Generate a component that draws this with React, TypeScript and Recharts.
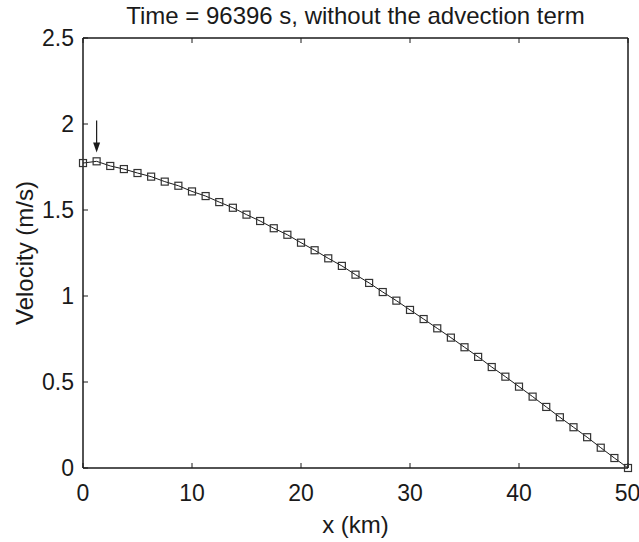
import React from 'react'
import {
    LineChart, Line, XAxis, YAxis, ReferenceLine, ReferenceDot,
} from 'recharts';

// distance along the channel (km) and depth-averaged velocity (m/s)
const xKm = [
    0, 1.25, 2.5, 3.75, 5, 6.25, 7.5, 8.75, 10, 11.25,
    12.5, 13.75, 15, 16.25, 17.5, 18.75, 20, 21.25, 22.5, 23.75,
    25, 26.25, 27.5, 28.75, 30, 31.25, 32.5, 33.75, 35, 36.25,
    37.5, 38.75, 40, 41.25, 42.5, 43.75, 45, 46.25, 47.5, 48.75, 50,
];
const velocity = [
    1.773, 1.783, 1.756, 1.738, 1.715, 1.694, 1.665, 1.641, 1.608, 1.581,
    1.546, 1.513, 1.473, 1.436, 1.394, 1.356, 1.310, 1.266, 1.219, 1.175,
    1.124, 1.076, 1.023, 0.973, 0.919, 0.866, 0.812, 0.758, 0.702, 0.646,
    0.587, 0.531, 0.473, 0.415, 0.355, 0.295, 0.237, 0.179, 0.118, 0.058, 0,
];
const xTicks = [0, 10, 20, 30, 40, 50];
const yTicks = [0, 0.5, 1, 1.5, 2, 2.5];

// arrow pointing at the velocity maximum
const arrowX = 1.25;
const arrowTop = 2.02;
const arrowTip = 1.835;

const title = 'Time = 96396 s, without the advection term';

const data = xKm.map((x, i) => ({ x, v: velocity[i] }));

const font = '"Liberation Sans", Arial, Helvetica, sans-serif';
const ink = '#1a1a1a';

const SquareDot = (props: any) => {
    const { cx, cy } = props;
    if (cx == null || cy == null) return null;
    return <rect x={cx - 3.5} y={cy - 3.5} width={7} height={7} fill="none" stroke="#333" strokeWidth={1.2} />;
};

const ArrowHead = (props: any) => {
    const { cx, cy } = props;
    if (cx == null || cy == null) return null;
    return <path d={`M${cx},${cy} L${cx - 3.5},${cy - 10} L${cx + 3.5},${cy - 10} Z`} fill={ink} />;
};

const tickStyle = { fontSize: 23, fill: ink, fontFamily: font };
const axisLine = { stroke: ink, strokeWidth: 1.5 };
const tickLine = { stroke: ink, strokeWidth: 1 };
const blank = () => '';

const App: React.FC = () => {
    return (
        <div style={{ position: 'absolute', left: 0, top: 0, background: '#fff' }}>
            <LineChart width={639} height={542} data={data} margin={{ top: 0, right: 0, bottom: 0, left: 0 }}>
                <XAxis
                    xAxisId="b" dataKey="x" type="number" domain={[0, 50]} ticks={xTicks}
                    height={74} tickSize={-5} tickMargin={22} tick={tickStyle}
                    axisLine={axisLine} tickLine={tickLine}
                    label={{ value: 'x (km)', position: 'insideBottom', offset: 9, fontSize: 24, fill: ink, fontFamily: font }}
                />
                <XAxis
                    xAxisId="t" orientation="top" dataKey="x" type="number" domain={[0, 50]} ticks={xTicks}
                    height={38} tickSize={-5} tickFormatter={blank}
                    axisLine={axisLine} tickLine={tickLine}
                    label={{ value: title, position: 'insideTop', offset: 7, fontSize: 24, fill: ink, fontFamily: font }}
                />
                <YAxis
                    yAxisId="l" type="number" domain={[0, 2.5]} ticks={yTicks}
                    width={83} tickSize={-5} tickMargin={14} tick={tickStyle}
                    axisLine={axisLine} tickLine={tickLine}
                    label={{ value: 'Velocity (m/s)', angle: -90, position: 'insideLeft', offset: 24, fontSize: 24, fill: ink, fontFamily: font, style: { textAnchor: 'middle' } }}
                />
                <YAxis
                    yAxisId="r" orientation="right" type="number" domain={[0, 2.5]} ticks={yTicks}
                    width={11} tickSize={-5} tickFormatter={blank}
                    axisLine={axisLine} tickLine={tickLine}
                />
                <Line
                    xAxisId="b" yAxisId="l" type="linear" dataKey="v"
                    stroke={ink} strokeWidth={1} dot={<SquareDot />} activeDot={false}
                    isAnimationActive={false}
                />
                <ReferenceLine
                    xAxisId="b" yAxisId="l"
                    segment={[{ x: arrowX, y: arrowTop }, { x: arrowX, y: arrowTip + 0.05 }]}
                    stroke={ink} strokeWidth={1.2}
                />
                <ReferenceDot xAxisId="b" yAxisId="l" x={arrowX} y={arrowTip} shape={<ArrowHead />} />
            </LineChart>
        </div>
    )
}

export default App
